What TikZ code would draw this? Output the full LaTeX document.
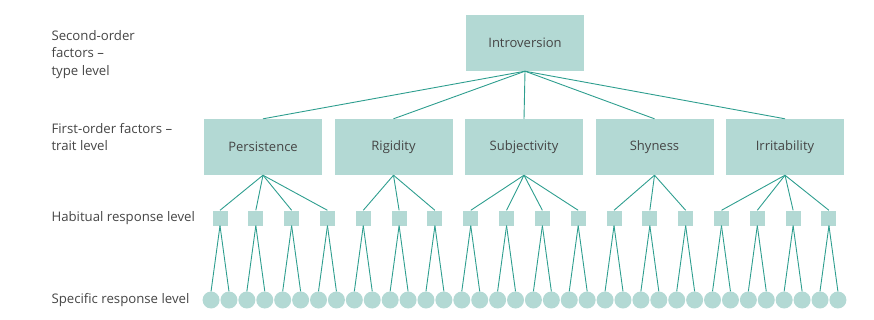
\documentclass[tikz,border=0pt]{standalone}
\usepackage{fontspec}
\setmainfont{Open Sans}
\usepackage{tikz}
\usetikzlibrary{positioning}
\definecolor{INK}{HTML}{454545}
\definecolor{BOX}{HTML}{B3D9D4}
\definecolor{LINK}{HTML}{2E9E8F}

\begin{document}
\begin{tikzpicture}[x=1pt,y=-1pt]
\tikzset{factor/.style={fill=BOX,minimum width=118pt,minimum height=56pt,inner sep=0pt,text=INK,font=\fontsize{13}{15}\selectfont},
 habit/.style={fill=BOX,minimum size=15pt,inner sep=0pt},
 resp/.style={circle,fill=BOX,minimum size=17pt,inner sep=0pt},
 lvl/.style={anchor=west,align=left,text=INK,font=\fontsize{13.2}{17.5}\selectfont},
 link/.style={LINK,line width=0.9pt}}
\useasboundingbox (0,0) rectangle (874,319);
% level labels
\node[lvl] (lsecond) at (48,54.5) {Second-order\\factors --\\type level};
\node[lvl] (lfirst) at (48,137) {First-order factors --\\trait level};
\node[lvl] (lhabit) at (48,218) {Habitual response level};
\node[lvl] (lspec) at (48,300) {Specific response level};
% type and traits
\node[factor] (intro) at (525,43) {Introversion};
\node[factor] (t1) at (263,147) {Persistence};
\node[factor] (t2) at (393.5,147) {Rigidity};
\node[factor] (t3) at (524,147) {Subjectivity};
\node[factor] (t4) at (654.5,147) {Shyness};
\node[factor] (t5) at (785,147) {Irritability};
\foreach \t in {1,...,5} \draw[link] (intro.south) -- (t\t.north);
% habits and specific responses
\foreach \i/\p in {1/1,2/1,3/1,4/1,5/2,6/2,7/2,8/3,9/3,10/3,11/3,12/4,13/4,14/4,15/5,16/5,17/5,18/5}{
 \node[habit] (h\i) at ({220+35.82*(\i-1)},218) {};
 \draw[link] (t\p.south) -- (h\i.north);
}
\foreach \j in {1,...,36}
 \node[resp] (c\j) at ({211.05+17.91*(\j-1)},300) {};
\foreach \i in {1,...,18}{
 \pgfmathtruncatemacro{\ca}{2*\i-1}\pgfmathtruncatemacro{\cb}{2*\i}
 \draw[link] (h\i.south) -- (c\ca.north);
 \draw[link] (h\i.south) -- (c\cb.north);
}
\end{tikzpicture}
\end{document}
